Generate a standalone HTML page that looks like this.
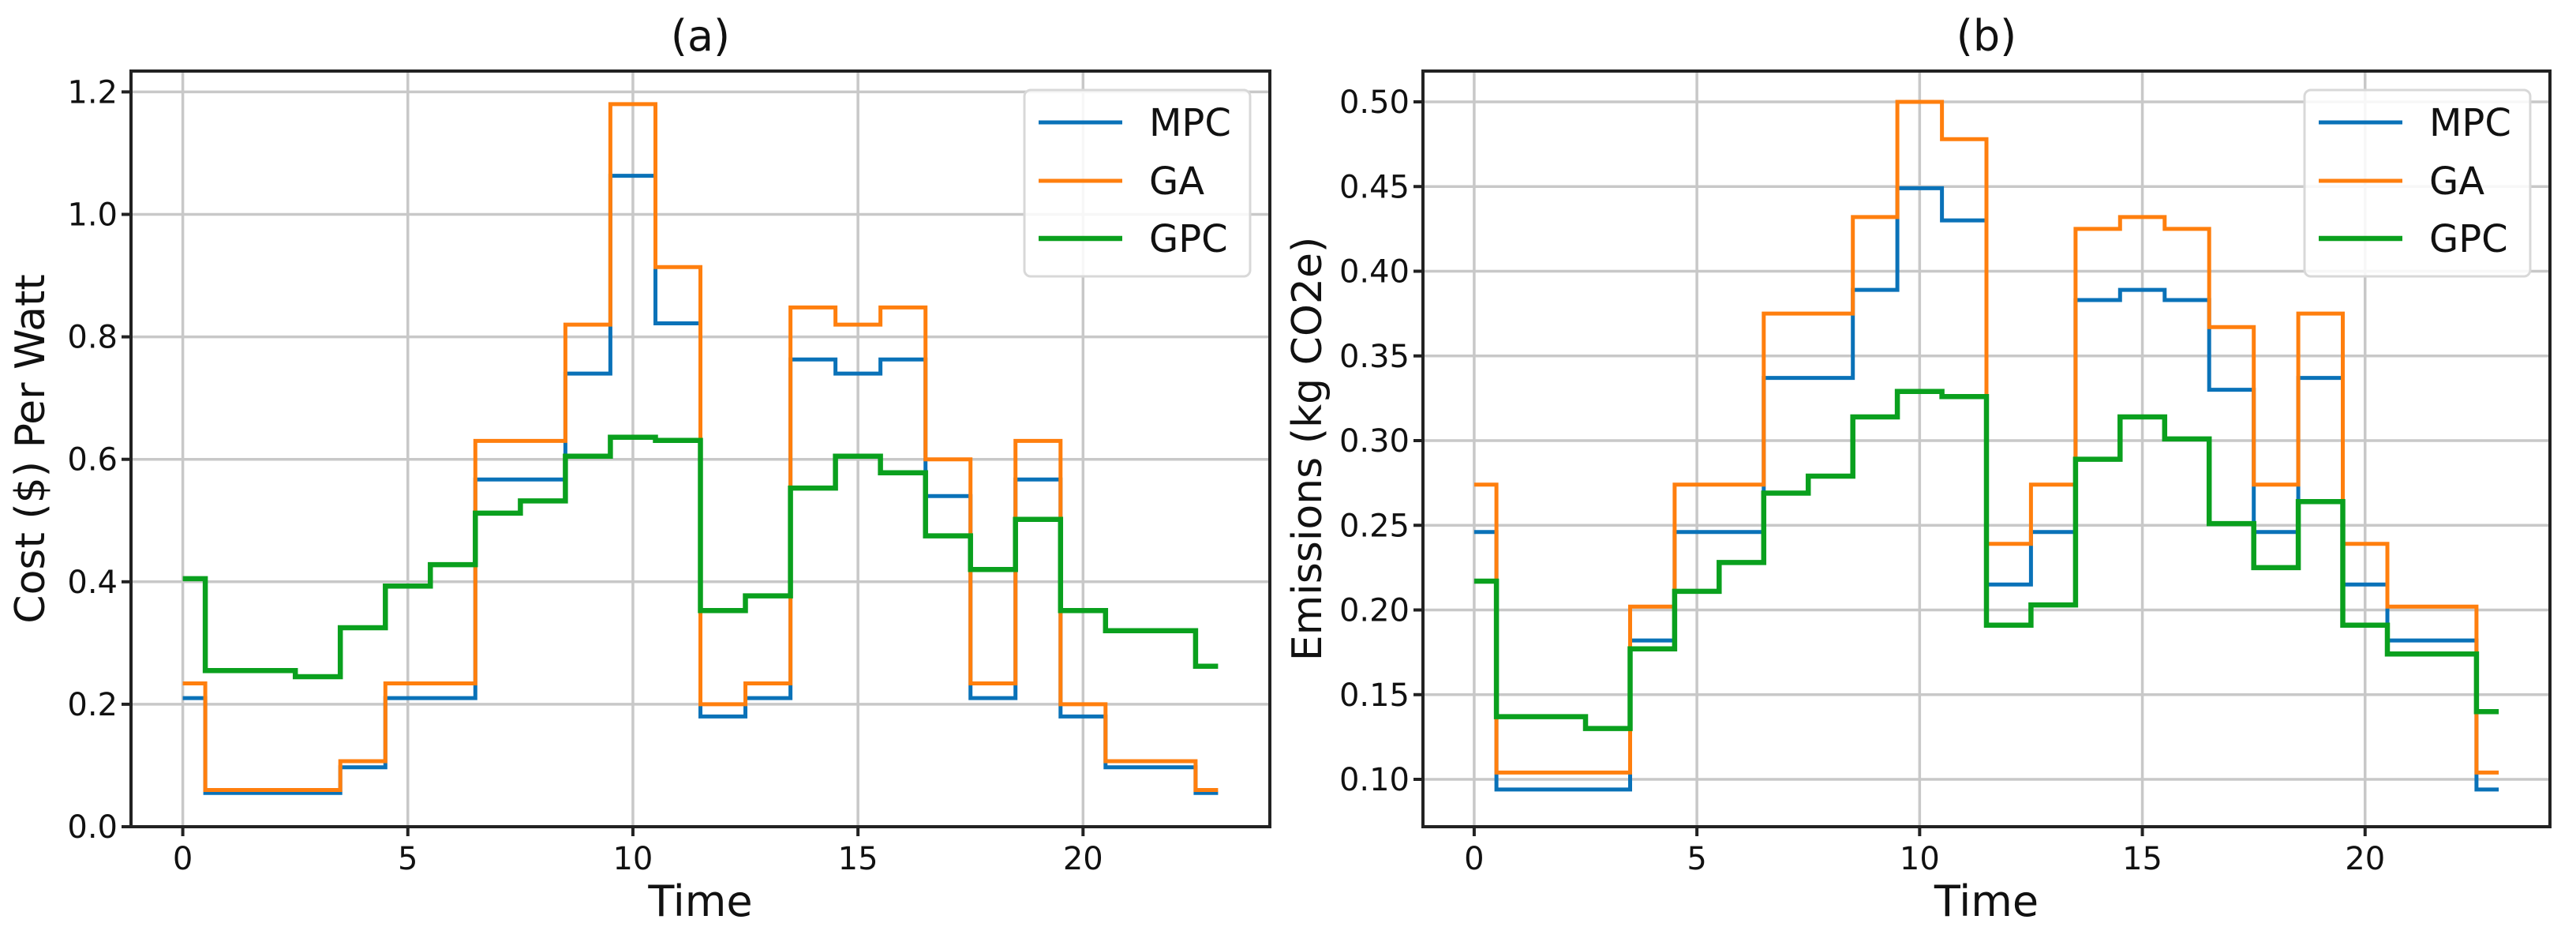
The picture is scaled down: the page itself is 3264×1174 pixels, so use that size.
<!DOCTYPE html>
<html><head><meta charset="utf-8"><style>
html,body{margin:0;padding:0;background:#fff;}
svg{display:block;font-family:"DejaVu Sans","Liberation Sans",sans-serif;}
</style></head><body>
<svg id="chart" width="3264" height="1174" xmlns="http://www.w3.org/2000/svg"></svg>
<script>
const times=[0,1,2,3,4,5,6,7,8,9,10,11,12,13,14,15,16,17,18,19,20,21,22,23];
const costMPC=[0.21,0.055,0.055,0.055,0.097,0.21,0.21,0.567,0.567,0.74,1.063,0.822,0.18,0.21,0.763,0.74,0.763,0.54,0.21,0.567,0.18,0.097,0.097,0.055];
const costGA=[0.234,0.06,0.06,0.06,0.107,0.234,0.234,0.63,0.63,0.82,1.18,0.914,0.2,0.234,0.848,0.82,0.848,0.6,0.234,0.63,0.2,0.107,0.107,0.06];
const costGPC=[0.405,0.255,0.255,0.245,0.325,0.393,0.428,0.512,0.532,0.605,0.636,0.631,0.353,0.377,0.553,0.605,0.578,0.475,0.42,0.502,0.353,0.32,0.32,0.262];
const emMPC=[0.246,0.094,0.094,0.094,0.182,0.246,0.246,0.337,0.337,0.389,0.449,0.43,0.215,0.246,0.383,0.389,0.383,0.33,0.246,0.337,0.215,0.182,0.182,0.094];
const emGA=[0.274,0.104,0.104,0.104,0.202,0.274,0.274,0.375,0.375,0.432,0.5,0.478,0.239,0.274,0.425,0.432,0.425,0.367,0.274,0.375,0.239,0.202,0.202,0.104];
const emGPC=[0.217,0.137,0.137,0.13,0.177,0.211,0.228,0.269,0.279,0.314,0.329,0.326,0.191,0.203,0.289,0.314,0.301,0.251,0.225,0.264,0.191,0.174,0.174,0.14];
const xTicks=[0,5,10,15,20];
const costTicks=[0,0.2,0.4,0.6,0.8,1.0,1.2];
const costTickLabels=["0.0","0.2","0.4","0.6","0.8","1.0","1.2"];
const emTicks=[0.10,0.15,0.20,0.25,0.30,0.35,0.40,0.45,0.50];
const emTickLabels=["0.10","0.15","0.20","0.25","0.30","0.35","0.40","0.45","0.50"];
const seriesNames=["MPC","GA","GPC"];

const NS="http://www.w3.org/2000/svg";
const svg=document.getElementById('chart');
function el(tag,attrs,parent){const e=document.createElementNS(NS,tag);for(const k in attrs)e.setAttribute(k,attrs[k]);(parent||svg).appendChild(e);return e;}
const colors=["#0a72b8","#ff7f0e","#0aa01e"];
const widths=[5,5,6.5];

function panel(o){
  const g=el('g',{});
  
  
  const L=o.left,R=o.right,T=90,B=1047;
  const xs=v=>L+(v-(-1.15))/(25.3)*(R-L);
  const ys=v=>B-(v-o.ymin)/(o.ymax-o.ymin)*(B-T);
  xTicks.forEach(t=>{const l=el('line',{x1:xs(t),x2:xs(t),y1:T,y2:B,stroke:'#c8c8c8','stroke-width':3.5},g);
    });
  o.yt.forEach(t=>{const l=el('line',{x1:L,x2:R,y1:ys(t),y2:ys(t),stroke:'#c8c8c8','stroke-width':3.5},g);
    });
  o.series.forEach((d,si)=>{
    let p='';
    for(let i=0;i<d.length;i++){
      const x0=i===0?times[0]:(times[i-1]+times[i])/2;
      const x1=i===d.length-1?times[i]:(times[i]+times[i+1])/2;
      p+=(i===0?'M':'L')+xs(x0).toFixed(1)+','+ys(d[i]).toFixed(1)+'L'+xs(x1).toFixed(1)+','+ys(d[i]).toFixed(1);
    }
    const path=el('path',{d:p,fill:'none',stroke:colors[si],'stroke-width':widths[si],'stroke-linejoin':'miter','stroke-linecap':'butt'},g);
    
    
  });
  const f=el('rect',{x:L,y:T,width:R-L,height:B-T,fill:'none',stroke:'#222','stroke-width':4},g);
  
  xTicks.forEach(t=>{
    el('line',{x1:xs(t),x2:xs(t),y1:B,y2:B+12,stroke:'#222','stroke-width':4},g);
    const tx=el('text',{x:xs(t),y:B+54,'font-size':40,'text-anchor':'middle',fill:'#111'},g);
    tx.textContent=t;
  });
  o.yt.forEach((t,i)=>{
    el('line',{x1:L-12,x2:L,y1:ys(t),y2:ys(t),stroke:'#222','stroke-width':4},g);
    const tx=el('text',{x:L-17,y:ys(t)+14,'font-size':40,'text-anchor':'end',fill:'#111'},g);
    tx.textContent=o.ytl[i];
  });
  const ti=el('text',{x:(L+R)/2,y:64,'font-size':54,'text-anchor':'middle',fill:'#111'},g);
  ti.textContent=o.title;
  const xl=el('text',{x:(L+R)/2,y:1160,'font-size':54,'text-anchor':'middle',fill:'#111'},g);
  xl.textContent='Time';
  const cy=(T+B)/2;
  const yl=el('text',{x:o.ylx,y:cy,'font-size':52,'text-anchor':'middle',fill:'#111',transform:'rotate(-90 '+o.ylx+' '+cy+')'},g);
  yl.textContent=o.ylabel;
  const lx=R-25-286;
  const lg=el('g',{},g);
  
  el('rect',{x:lx,y:114,width:286,height:236,rx:8,fill:'#fff','fill-opacity':0.85,stroke:'#d8d8d8','stroke-width':3},lg);
  const ly=[155,229,302];
  seriesNames.forEach((n,i)=>{
    const e=el('g',{},lg);
    
    el('line',{x1:lx+18,x2:lx+124,y1:ly[i],y2:ly[i],stroke:colors[i],'stroke-width':widths[i]},e);
    const t=el('text',{x:lx+158,y:ly[i]+17,'font-size':48,fill:'#111'},e);t.textContent=n;
  });
}
panel({name:'panel-a-cost',left:166,right:1609,ymin:0,ymax:(1047-90)/155.1*0.2,yt:costTicks,ytl:costTickLabels,
  series:[costMPC,costGA,costGPC],title:'(a)',ylabel:'Cost ($) Per Watt',ylx:56});
panel({name:'panel-b-emissions',left:1803,right:3231,ymin:0.1-(1047-987)/2145,ymax:0.1-(1047-987)/2145+(1047-90)/2145,yt:emTicks,ytl:emTickLabels,
  series:[emMPC,emGA,emGPC],title:'(b)',ylabel:'Emissions (kg CO2e)',ylx:1674});
</script>
</body></html>
